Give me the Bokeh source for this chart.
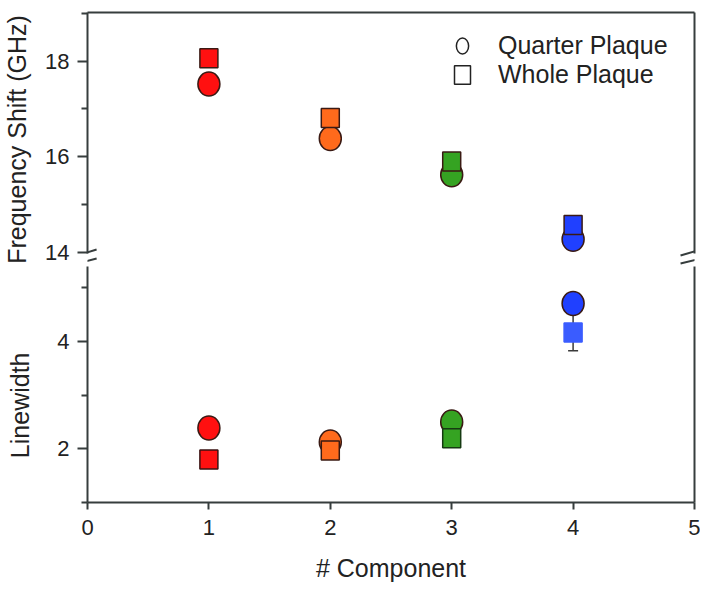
import numpy as np
from bokeh.plotting import figure
from bokeh.models import (Range1d, LinearAxis, FixedTicker, ColumnDataSource, Whisker,
                          TeeHead, Arrow, Legend, LegendItem)
from bokeh.layouts import column
from bokeh.embed import file_html
from bokeh.resources import INLINE

# ---------------- data ----------------
components = [1, 2, 3, 4]
point_colors = ["#ff1010", "#ff6a1c", "#35a322", "#2040ff"]
freq_quarter = [17.52, 16.38, 15.62, 14.27]
freq_whole = [18.06, 16.81, 15.90, 14.57]
lw_quarter = [2.39, 2.13, 2.50, 4.71]
lw_whole = [1.80, 1.97, 2.20, 4.17]
lw_whole_err = [0.0, 0.0, 0.0, 0.34]
lw_whole_fill = ["#ff1010", "#ff6a1c", "#35a322", "#3a5cff"]
lw_whole_line = ["#3a1212", "#3a1a12", "#163a12", "#3a5cff"]
x_ticks = [0, 1, 2, 3, 4, 5]
freq_ticks = [14, 16, 18]
freq_minor = [15, 17, 19]
lw_ticks = [2, 4]
lw_minor = [1, 3, 5]

FONT = "Liberation Sans"
AX = "#363d3d"
EDGE = "#3a1a14"
NB = "\u00a0"

x_range = Range1d(0, 5)


def base_fig(height, yr, top_border, bottom_border):
    p = figure(width=700, height=height, x_range=x_range, y_range=yr,
               output_backend="svg", toolbar_location=None,
               x_axis_location=None, y_axis_location=None,
               min_border_left=86, min_border_right=6, min_border_top=top_border,
               min_border_bottom=bottom_border, outline_line_color=None,
               background_fill_color="white", border_fill_color="white")
    p.grid.visible = False
    return p


def style_axis(ax, label_size="22px"):
    ax.axis_line_color = AX
    ax.axis_line_width = 2
    ax.major_tick_line_color = AX
    ax.major_tick_line_width = 2
    ax.minor_tick_line_color = AX
    ax.minor_tick_line_width = 2
    ax.major_tick_in = 0
    ax.minor_tick_in = 0
    ax.major_label_text_font = FONT
    ax.major_label_text_font_size = label_size
    ax.major_label_text_color = "#222222"
    ax.axis_label_text_font = FONT
    ax.axis_label_text_font_size = "25px"
    ax.axis_label_text_font_style = "normal"
    ax.axis_label_text_color = "#222222"


def plain_axis(bounds="auto"):
    ax = LinearAxis(ticker=FixedTicker(ticks=[]), bounds=bounds)
    style_axis(ax, "0px")
    ax.major_tick_out = 0
    ax.minor_tick_out = 0
    ax.major_label_standoff = 0
    return ax


def break_marks(p, y_pairs):
    for xc, dx0, dx1 in ((0.0, -0.085, 0.075), (5.0, -0.115, 0.05)):
        for y_lo, y_hi in y_pairs:
            p.add_layout(Arrow(end=None, x_start=xc + dx0, y_start=y_lo,
                               x_end=xc + dx1, y_end=y_hi,
                               line_color=AX, line_width=2))


# ---------------- top panel: frequency shift ----------------
top_bounds = (13.97, 19.02)
top = base_fig(266, Range1d(13.70, 19.02), 12, 0)
ly = LinearAxis(ticker=FixedTicker(ticks=freq_ticks, minor_ticks=freq_minor),
                axis_label="Frequency Shift (GHz)", bounds=top_bounds)
style_axis(ly)
ly.major_tick_out = 10
ly.minor_tick_out = 6
ly.major_label_standoff = 8
ly.axis_label_standoff = 11
top.add_layout(ly, "left")
top.add_layout(plain_axis(top_bounds), "right")
top.add_layout(plain_axis(), "above")

src_fq = ColumnDataSource(dict(x=components, y=freq_quarter, c=point_colors))
src_fw = ColumnDataSource(dict(x=components, y=freq_whole, c=point_colors))
top.ellipse(x="x", y="y", width=22, height=24, width_units="screen", height_units="screen",
            fill_color="c", line_color=EDGE, line_width=1.5, source=src_fq)
top.rect(x="x", y="y", width=18, height=19, width_units="screen", height_units="screen",
         fill_color="c", line_color=EDGE, line_width=1.5, source=src_fw)

leg_c = top.ellipse(x=[np.nan], y=[np.nan], width=13, height=17, width_units="screen",
                    height_units="screen", fill_color="white", line_color="#222222",
                    line_width=1.5)
leg_s = top.rect(x=[np.nan], y=[np.nan], width=15, height=17, width_units="screen",
                 height_units="screen", fill_color="white", line_color="#222222",
                 line_width=1.5)
legend = Legend(items=[LegendItem(label="Quarter Plaque", renderers=[leg_c]),
                       LegendItem(label="Whole Plaque", renderers=[leg_s])],
                location=(365, 177), orientation="vertical",
                border_line_color=None, background_fill_alpha=0,
                padding=0, margin=0, glyph_width=20, glyph_height=23,
                label_standoff=26, label_text_font=FONT, label_text_font_size="25px",
                label_text_color="#222222", spacing=-9, label_height=20)
top.add_layout(legend)
break_marks(top, [(13.929, 14.055), (13.761, 13.866)])

# ---------------- bottom panel: linewidth ----------------
bot = base_fig(320, Range1d(1.0, 5.40), 0, 84)
ly2 = LinearAxis(ticker=FixedTicker(ticks=lw_ticks, minor_ticks=lw_minor),
                 axis_label="Linewidth" + NB * 6)
style_axis(ly2)
ly2.major_tick_out = 10
ly2.minor_tick_out = 6
ly2.major_label_standoff = 8
ly2.axis_label_standoff = 20
bot.add_layout(ly2, "left")
bot.add_layout(plain_axis(), "right")
lx = LinearAxis(ticker=FixedTicker(ticks=x_ticks), axis_label="# Component")
style_axis(lx)
lx.major_tick_out = 7
lx.minor_tick_out = 0
lx.major_label_standoff = 10
lx.axis_label_standoff = 16
bot.add_layout(lx, "below")

err_idx = [i for i, e in enumerate(lw_whole_err) if e > 0]
src_err = ColumnDataSource(dict(
    x=[components[i] for i in err_idx],
    upper=[lw_whole[i] + lw_whole_err[i] for i in err_idx],
    lower=[lw_whole[i] - lw_whole_err[i] for i in err_idx]))
bot.add_layout(Whisker(base="x", upper="upper", lower="lower", source=src_err,
                       dimension="height", line_color="#3a3a3a", line_width=1.5,
                       upper_head=None,
                       lower_head=TeeHead(size=10, line_color="#3a3a3a", line_width=1.5),
                       level="underlay"))

src_lq = ColumnDataSource(dict(x=components, y=lw_quarter, c=point_colors))
src_lw = ColumnDataSource(dict(x=components, y=lw_whole, c=lw_whole_fill, lc=lw_whole_line))
bot.ellipse(x="x", y="y", width=22, height=24, width_units="screen", height_units="screen",
            fill_color="c", line_color=EDGE, line_width=1.5, source=src_lq)
bot.rect(x="x", y="y", width=18, height=19, width_units="screen", height_units="screen",
         fill_color="c", line_color="lc", line_width=1.5, source=src_lw)

layout = column(top, bot, spacing=0)
open("out.html", "w").write(file_html(layout, INLINE))
